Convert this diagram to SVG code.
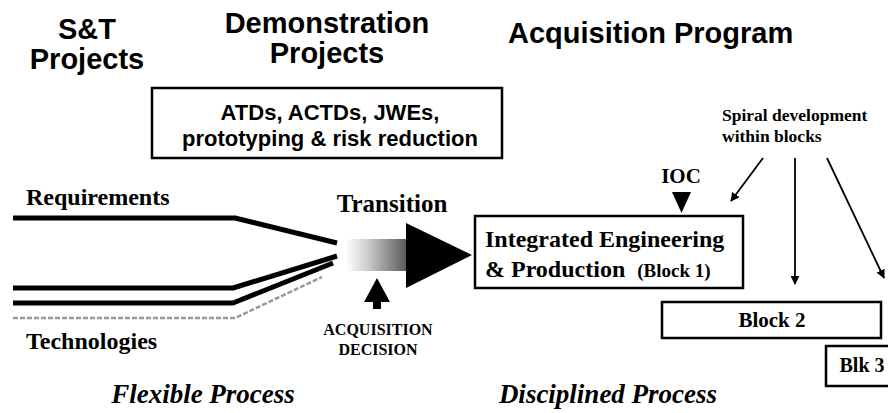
<svg xmlns="http://www.w3.org/2000/svg" width="888" height="413" viewBox="0 0 888 413">
<style>
.hd{font-family:"Liberation Sans",Arial,sans-serif;font-weight:bold;font-size:29px;fill:#000}
.bx{font-family:"Liberation Sans",Arial,sans-serif;font-weight:bold;font-size:22px;fill:#000}
.tm{font-family:"Liberation Serif","Times New Roman",serif;font-weight:bold;fill:#000}
.it{font-family:"Liberation Serif","Times New Roman",serif;font-weight:bold;font-style:italic;font-size:27px;fill:#000}
.box{fill:#fff;stroke:#000;stroke-width:2.5}
.ln{fill:none;stroke:#000;stroke-width:5;stroke-linejoin:round}
.thin{fill:none;stroke:#000;stroke-width:1.8}
</style>
<defs>
<marker id="ah" viewBox="0 0 10 10" refX="9" refY="5" markerWidth="9" markerHeight="9" markerUnits="userSpaceOnUse" orient="auto">
<path d="M0,0 L10,5 L0,10 z" fill="#000"/>
</marker>
<linearGradient id="gr" x1="0" y1="0" x2="1" y2="0">
<stop offset="0" stop-color="#fff"/>
<stop offset="0.35" stop-color="#ccc"/>
<stop offset="1" stop-color="#555"/>
</linearGradient>
</defs>
<rect width="888" height="413" fill="#fff"/>

<g id="headers">
<text class="hd" x="87" y="39" text-anchor="middle">S&amp;T</text>
<text class="hd" x="87" y="69" text-anchor="middle">Projects</text>
<text class="hd" x="327" y="33" text-anchor="middle">Demonstration</text>
<text class="hd" x="327" y="63" text-anchor="middle">Projects</text>
<text class="hd" x="508" y="43">Acquisition Program</text>
</g>

<g id="demo-box">
<rect class="box" x="152" y="88" width="350" height="70"/>
<text class="bx" x="330" y="120" text-anchor="middle">ATDs, ACTDs, JWEs,</text>
<text class="bx" x="330" y="146" text-anchor="middle">prototyping &amp; risk reduction</text>
</g>

<g id="streams">
<text class="tm" x="26" y="205" font-size="24">Requirements</text>
<text class="tm" x="26" y="349" font-size="24">Technologies</text>
<polyline class="ln" points="13,218 235,218 337,243"/>
<polyline class="ln" points="13,288 233,288 337,256"/>
<polyline class="ln" points="13,303 233,303 333,263"/>
<polyline fill="none" stroke="#999" stroke-width="2.5" stroke-dasharray="5 2" points="13,318 235,318 322,277"/>
</g>

<g id="transition">
<text class="tm" x="392" y="212" font-size="25" text-anchor="middle">Transition</text>
<rect x="346" y="239" width="62" height="32" fill="url(#gr)"/>
<polygon points="406,223 472,255 406,288" fill="#000"/>
</g>

<g id="acq-decision">
<polygon points="377,278 390,302 381,302 381,309 373,309 373,302 364,302" fill="#000"/>
<text class="tm" x="378" y="335" font-size="16" text-anchor="middle">ACQUISITION</text>
<text class="tm" x="378" y="355" font-size="16" text-anchor="middle">DECISION</text>
</g>

<g id="block1">
<rect class="box" x="475" y="216" width="268" height="72"/>
<text class="tm" x="485" y="247" font-size="24">Integrated Engineering</text>
<text class="tm" x="485" y="277" font-size="24">&amp; Production <tspan font-size="19" dx="6">(Block 1)</tspan></text>
</g>

<g id="ioc">
<text class="tm" x="681" y="183" font-size="21" text-anchor="middle">IOC</text>
<polygon points="672,192 691,192 681.5,213" fill="#000"/>
</g>

<g id="spiral">
<text class="tm" x="722" y="121" font-size="17.5">Spiral development</text>
<text class="tm" x="722" y="142" font-size="17.5">within blocks</text>
</g>

<g id="connectors">
<line class="thin" x1="763" y1="158" x2="731" y2="201" marker-end="url(#ah)"/>
<line class="thin" x1="795" y1="158" x2="795" y2="284" marker-end="url(#ah)"/>
<line class="thin" x1="827" y1="158" x2="884" y2="278" marker-end="url(#ah)"/>
</g>

<g id="block2">
<rect class="box" x="662" y="302" width="219" height="36"/>
<text class="tm" x="772" y="327" font-size="21" text-anchor="middle">Block 2</text>
</g>

<g id="blk3">
<rect class="box" x="826" y="346" width="64" height="40"/>
<text class="tm" x="862" y="372" font-size="20" text-anchor="middle">Blk 3</text>
</g>

<g id="footer">
<text class="it" x="203" y="403" text-anchor="middle">Flexible Process</text>
<text class="it" x="608" y="403" text-anchor="middle">Disciplined Process</text>
</g>
</svg>
